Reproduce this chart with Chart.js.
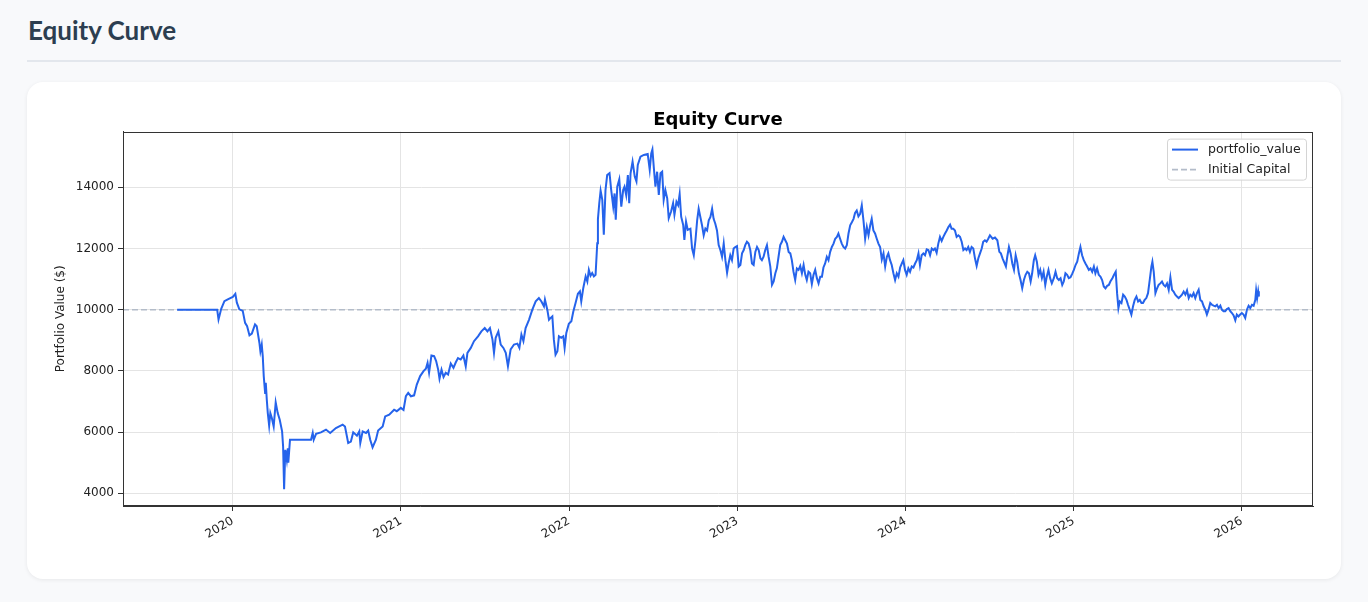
<!DOCTYPE html>
<html>
<head>
<meta charset="utf-8">
<title>Equity Curve</title>
<script src="https://cdn.jsdelivr.net/npm/chart.js@4.4.1/dist/chart.umd.min.js"></script>
<style>
    html, body { margin: 0; padding: 0; background: #f8f9fb; }
    body { width: 1368px; height: 602px; overflow: hidden; position: relative; font-family: Lato, "Open Sans", sans-serif; }
    h1 { position: absolute; left: 28px; top: 15px; margin: 0; font-size: 26px; line-height: 1.2; font-weight: 700; color: #2c3e50; }
    .rule { position: absolute; left: 27px; top: 60px; width: 1314px; height: 2px; background: #e3e7ed; }
    .card { position: absolute; left: 27px; top: 82px; width: 1314px; height: 497px; background: #fff; border-radius: 16px; box-shadow: 0 1px 4px rgba(0, 0, 0, 0.07); }
    canvas { display: block; }
</style>
</head>
<body>
<h1>Equity Curve</h1>
<div class="rule"></div>
<div class="card">
    <canvas id="equityChart" width="1314" height="497"></canvas>
</div>

<script>
// dates as decimal years
const dates = [
    2019.669, 2019.907, 2019.915, 2019.931, 2019.950, 2019.970, 2020.000, 2020.015, 2020.024, 2020.039,
    2020.059, 2020.073, 2020.085, 2020.099, 2020.113, 2020.132, 2020.142, 2020.158, 2020.164, 2020.172,
    2020.178, 2020.184, 2020.192, 2020.196, 2020.202, 2020.208, 2020.216, 2020.223, 2020.232, 2020.243,
    2020.255, 2020.267, 2020.279, 2020.293, 2020.299, 2020.305, 2020.312, 2020.321, 2020.327, 2020.330,
    2020.340, 2020.465, 2020.475, 2020.481, 2020.495, 2020.524, 2020.554, 2020.579, 2020.613, 2020.653,
    2020.667, 2020.686, 2020.702, 2020.716, 2020.738, 2020.752, 2020.758, 2020.772, 2020.792, 2020.805,
    2020.817, 2020.831, 2020.851, 2020.864, 2020.891, 2020.906, 2020.930, 2020.959, 2020.975, 2020.999,
    2021.015, 2021.029, 2021.043, 2021.059, 2021.078, 2021.094, 2021.114, 2021.134, 2021.148, 2021.158,
    2021.167, 2021.181, 2021.197, 2021.209, 2021.221, 2021.229, 2021.241, 2021.253, 2021.266, 2021.280,
    2021.296, 2021.312, 2021.326, 2021.339, 2021.355, 2021.371, 2021.385, 2021.395, 2021.415, 2021.434,
    2021.458, 2021.478, 2021.498, 2021.514, 2021.529, 2021.544, 2021.553, 2021.563, 2021.579, 2021.593,
    2021.609, 2021.623, 2021.636, 2021.652, 2021.672, 2021.692, 2021.704, 2021.716, 2021.728, 2021.741,
    2021.761, 2021.781, 2021.801, 2021.820, 2021.835, 2021.850, 2021.856, 2021.870, 2021.880, 2021.890,
    2021.900, 2021.909, 2021.919, 2021.930, 2021.939, 2021.953, 2021.965, 2021.973, 2021.983, 2021.998,
    2022.013, 2022.025, 2022.038, 2022.052, 2022.064, 2022.072, 2022.084, 2022.098, 2022.108, 2022.117,
    2022.127, 2022.137, 2022.147, 2022.157, 2022.167, 2022.171, 2022.179, 2022.187, 2022.197, 2022.206,
    2022.216, 2022.226, 2022.240, 2022.250, 2022.262, 2022.270, 2022.277, 2022.286, 2022.298, 2022.310,
    2022.321, 2022.329, 2022.339, 2022.349, 2022.357, 2022.365, 2022.377, 2022.390, 2022.400, 2022.408,
    2022.424, 2022.444, 2022.467, 2022.479, 2022.488, 2022.495, 2022.503, 2022.513, 2022.523, 2022.533,
    2022.543, 2022.553, 2022.562, 2022.572, 2022.583, 2022.592, 2022.606, 2022.618, 2022.626, 2022.638,
    2022.648, 2022.657, 2022.666, 2022.678, 2022.685, 2022.695, 2022.705,
    2022.721, 2022.731, 2022.741, 2022.751, 2022.761, 2022.770, 2022.780, 2022.790, 2022.800, 2022.810,
    2022.820, 2022.830, 2022.840, 2022.850, 2022.859, 2022.869, 2022.879, 2022.889, 2022.899, 2022.909,
    2022.919, 2022.929, 2022.939, 2022.948, 2022.958, 2022.968, 2022.978, 2022.988, 2022.998, 2023.008,
    2023.018, 2023.028, 2023.038, 2023.047, 2023.057, 2023.067, 2023.077, 2023.087, 2023.097, 2023.107,
    2023.117, 2023.127, 2023.137, 2023.146, 2023.156, 2023.166, 2023.176, 2023.186, 2023.196, 2023.206,
    2023.216, 2023.226, 2023.235, 2023.245, 2023.255, 2023.265, 2023.275, 2023.285, 2023.295, 2023.305,
    2023.315, 2023.324, 2023.334, 2023.344, 2023.354, 2023.364, 2023.374, 2023.384, 2023.394, 2023.404,
    2023.413, 2023.423, 2023.433, 2023.443, 2023.453, 2023.463, 2023.473, 2023.483, 2023.493, 2023.503,
    2023.512, 2023.522, 2023.532, 2023.542, 2023.552, 2023.562, 2023.572, 2023.582, 2023.592, 2023.601,
    2023.611, 2023.621, 2023.631, 2023.641, 2023.651, 2023.661, 2023.671, 2023.681, 2023.691, 2023.700,
    2023.710, 2023.720, 2023.730, 2023.740, 2023.750, 2023.760, 2023.770, 2023.780, 2023.790, 2023.799,
    2023.809, 2023.819, 2023.829, 2023.839, 2023.849, 2023.859, 2023.869, 2023.879, 2023.889, 2023.898,
    2023.908, 2023.918, 2023.928, 2023.938, 2023.948, 2023.958, 2023.968, 2023.978, 2023.987, 2023.997,
    2024.007, 2024.017, 2024.027, 2024.037, 2024.047, 2024.057, 2024.067, 2024.077, 2024.086, 2024.096,
    2024.106, 2024.116, 2024.126, 2024.136, 2024.146, 2024.156, 2024.166, 2024.175, 2024.185, 2024.195,
    2024.205, 2024.215, 2024.225, 2024.235, 2024.245, 2024.255, 2024.265, 2024.274, 2024.284, 2024.294,
    2024.304, 2024.314, 2024.324, 2024.334, 2024.344, 2024.354, 2024.363, 2024.373, 2024.383, 2024.393,
    2024.403, 2024.413, 2024.423, 2024.433, 2024.443, 2024.453, 2024.462, 2024.472, 2024.482, 2024.492,
    2024.502, 2024.518, 2024.532, 2024.546, 2024.558, 2024.567, 2024.577, 2024.585, 2024.597, 2024.605,
    2024.615, 2024.625, 2024.635, 2024.645, 2024.655, 2024.664, 2024.674, 2024.684, 2024.694, 2024.704,
    2024.714, 2024.724, 2024.734, 2024.744, 2024.753, 2024.763, 2024.771, 2024.781, 2024.791, 2024.801,
    2024.811, 2024.821, 2024.831, 2024.840, 2024.850, 2024.860, 2024.870, 2024.882, 2024.892, 2024.902,
    2024.912, 2024.922, 2024.932, 2024.941, 2024.951, 2024.961, 2024.971, 2024.981, 2024.991, 2025.001,
    2025.011, 2025.021, 2025.031, 2025.040, 2025.050, 2025.060, 2025.070, 2025.080, 2025.090, 2025.100,
    2025.110, 2025.120, 2025.129, 2025.139, 2025.149, 2025.159, 2025.169, 2025.179, 2025.189, 2025.199,
    2025.209, 2025.218, 2025.230, 2025.240, 2025.250, 2025.258, 2025.266, 2025.274, 2025.284, 2025.294,
    2025.304, 2025.314, 2025.323, 2025.333, 2025.343, 2025.353, 2025.363, 2025.373, 2025.383, 2025.393,
    2025.403, 2025.412, 2025.422, 2025.432, 2025.442, 2025.452, 2025.462, 2025.468, 2025.476, 2025.486,
    2025.496, 2025.505, 2025.515, 2025.525, 2025.535, 2025.545, 2025.555, 2025.565, 2025.575, 2025.585,
    2025.594, 2025.604, 2025.614, 2025.624, 2025.634, 2025.644, 2025.654, 2025.664, 2025.674, 2025.684,
    2025.693, 2025.703, 2025.713, 2025.723, 2025.733, 2025.743, 2025.753, 2025.763, 2025.773, 2025.783,
    2025.792, 2025.802, 2025.812, 2025.822, 2025.832, 2025.842, 2025.852, 2025.862, 2025.872, 2025.881,
    2025.891, 2025.901, 2025.911, 2025.921, 2025.931, 2025.941, 2025.951, 2025.961, 2025.970, 2025.980,
    2025.990, 2026.000, 2026.010, 2026.020, 2026.030, 2026.040, 2026.050, 2026.060, 2026.070, 2026.080,
    2026.085, 2026.091, 2026.097, 2026.101
];

const portfolioValue = [
    10000, 10000, 9680, 10030, 10280, 10340, 10420, 10520, 10230, 10010,
    9960, 9570, 9460, 9160, 9220, 9520, 9460, 8920, 8640, 8860,
    8480, 7820, 7280, 7610, 7060, 6620, 6210, 6620, 6460, 6180,
    6970, 6620, 6400, 6020, 5530, 4130, 5420, 5090, 5470, 5000,
    5750, 5750, 5970, 5750, 5940, 5990, 6080, 5970, 6130, 6240,
    6180, 5640, 5690, 5990, 5880, 6020, 5640, 6020, 5970, 6050,
    5750, 5500, 5750, 6050, 6180, 6510, 6570, 6730, 6680, 6790,
    6720, 7170, 7280, 7170, 7200, 7550, 7830, 7990, 8070, 8260,
    7940, 8500, 8480, 8320, 8040, 7740, 8040, 7800, 7940, 7880,
    8240, 8100, 8280, 8420, 8370, 8500, 8150, 8590, 8750, 8970,
    9130, 9290, 9400, 9290, 9400, 9020, 8590, 9080, 9290, 8860,
    8750, 8590, 8150, 8700, 8860, 8890, 8750, 9190, 8970, 9400,
    9670, 10000, 10270, 10380, 10270, 10110, 10330, 10000, 9670, 9730,
    9780, 9020, 8530, 8640, 9130, 9080, 9130, 8750, 9240, 9540,
    9620, 9950, 10220, 10520, 10600, 10270, 10710, 11090, 10920, 11300,
    11110, 11200, 11090, 11140, 12170, 12960, 13480, 13890, 13590, 12450,
    13910, 14400, 14460, 13910, 13370, 13800, 12940, 14020, 14260, 13370,
    13910, 14020, 13750, 14400, 13480, 14460, 14840, 14350, 14190, 14730,
    15000, 15060, 15090, 14570, 15110, 15240, 14670, 14020, 14510, 13750,
    14460, 14510, 13590, 13910, 13640, 12990, 13210, 13480, 13100, 13530,
    13420, 13780, 13040, 12770, 12280, 12880, 12610,
    12650, 12000, 11780, 12270, 12920, 13300, 13030, 12760, 12430, 12650,
    12590, 12920, 13030, 13300, 12970, 12810, 12590, 12110, 11950, 11730,
    12160, 11620, 11210, 11510, 11780, 11620, 12000, 12050, 12080, 11410,
    11460, 11840, 11950, 12110, 12220, 12160, 11950, 11510, 11460, 11890,
    12050, 11950, 11680, 11620, 11730, 11950, 12110, 11730, 11410, 10810,
    10920, 11190, 11350, 11730, 12110, 12220, 12380, 12270, 12160, 11890,
    11840, 11620, 11240, 10970, 11350, 11300, 11430, 11190, 11460, 11140,
    10970, 11240, 11190, 10840, 11140, 11300, 11030, 10860, 11080, 11080,
    11380, 11510, 11730, 11620, 11890, 12050, 12160, 12320, 12380, 12490,
    12320, 12160, 12050, 12000, 12110, 12490, 12760, 12860, 12970, 13160,
    13240, 13050, 13130, 13410, 12920, 12320, 12700, 12430, 12760, 12970,
    12590, 12490, 12320, 12160, 12050, 11640, 11840, 11410, 11730, 11840,
    11620, 11460, 11190, 10970, 11190, 11080, 11380, 11510, 11620, 11300,
    11140, 11350, 11240, 11410, 11380, 11510, 11620, 11840, 11460, 11780,
    11840, 11780, 11970, 11950, 11780, 12000, 11950, 12000, 11860, 12160,
    12380, 12250, 12380, 12490, 12590, 12700, 12780, 12650, 12650, 12590,
    12380, 12430, 12380, 12220, 11950, 12000, 11950, 12050, 11890, 12050,
    12000, 11680, 11430, 11680, 11840, 12000, 12220, 12270, 12220, 12320,
    12430, 12320, 12360, 12270, 11890, 11840, 11680, 11570, 11410, 11730,
    12050, 11840, 11510, 11300, 11780, 11570, 11190, 10970, 10700, 10970,
    11140, 11240, 11190, 10920, 11190, 11620, 11780, 11570, 11140, 11300,
    11030, 11240, 10810, 11080, 11300, 11030, 10860, 11030, 11240, 11030,
    10970, 11030, 10810, 10920, 11190, 11140, 11030, 11060, 11170, 11300,
    11460, 11570, 11840, 12050, 11780, 11620, 11510, 11410, 11300, 11350,
    11240, 11410, 11190, 11350, 11140, 11080, 10970, 10760, 10700, 10780,
    10810, 10920, 11030, 11140, 11240, 10540, 10050, 10270, 10220, 10490,
    10430, 10320, 10160, 10000, 9840, 10110, 10320, 10430, 10270, 10320,
    10220, 10220, 10320, 10380, 10540, 10970, 11410, 11570, 11240, 10540,
    10700, 10810, 10860, 10920, 10810, 10760, 10860, 10650, 11060, 10650,
    10590, 10490, 10430, 10380, 10430, 10490, 10590, 10490, 10630, 10380,
    10490, 10430, 10540, 10380, 10540, 10650, 10320, 10270, 10110, 10000,
    9840, 10000, 10220, 10160, 10130, 10110, 10160, 10050, 10130, 10000,
    9950, 9950, 10020, 10050, 9950, 9890, 9810, 9650, 9840, 9780,
    9840, 9890, 9840, 9730, 10000, 10130, 10050, 10160, 10130, 10320,
    10630, 10380, 10600, 10430
];

const initialCapital = 10000;
const yearTicks = [2020, 2021, 2022, 2023, 2024, 2025, 2026];
const valueTicks = [4000, 6000, 8000, 10000, 12000, 14000];
const xRange = [2019.347, 2026.423];
const yRange = [3582, 15822];

const TICK_FONT = {family: "'DejaVu Sans', sans-serif", size: 12};

// matplotlib-like box around the axes
const axesFrame = {
    id: "axesFrame",
    afterDatasetsDraw(chart) {
        const {ctx, chartArea} = chart;
        ctx.save();
        ctx.strokeStyle = "#333333";
        ctx.lineWidth = 1;
        ctx.strokeRect(Math.round(chartArea.left) + 0.5, Math.round(chartArea.top) + 0.5,
            Math.round(chartArea.width) - 1, Math.round(chartArea.height) - 1);
        ctx.restore();
    }
};

// legend box in the upper right corner of the plot
const cornerLegend = {
    id: "cornerLegend",
    afterDraw(chart) {
        const {ctx, chartArea} = chart;
        const boxW = 139;
        const boxH = 41;
        const x = chartArea.right - 7 - boxW;
        const y = chartArea.top + 7;

        ctx.save();
        ctx.fillStyle = "rgba(255,255,255,0.85)";
        ctx.strokeStyle = "#d4d4d4";
        ctx.lineWidth = 1;
        ctx.beginPath();
        ctx.roundRect(x + 0.5, y + 0.5, boxW, boxH, 3);
        ctx.fill();
        ctx.stroke();

        ctx.font = "12.5px 'DejaVu Sans', sans-serif";
        ctx.textBaseline = "middle";
        chart.data.datasets.forEach((ds, i) => {
            const rowY = y + 11 + i * 20;
            ctx.strokeStyle = ds.borderColor;
            ctx.lineWidth = ds.borderWidth;
            ctx.setLineDash(ds.borderDash || []);
            ctx.beginPath();
            ctx.moveTo(x + 5, rowY);
            ctx.lineTo(x + 31, rowY);
            ctx.stroke();
            ctx.setLineDash([]);
            ctx.fillStyle = "#222222";
            ctx.fillText(ds.label, x + 41, rowY);
        });
        ctx.restore();
    }
};

const points = dates.map((d, i) => ({x: d, y: portfolioValue[i]}));

new Chart(document.getElementById("equityChart"), {
    type: "line",
    data: {
        datasets: [
            {
                label: "portfolio_value",
                data: points,
                borderColor: "#2563eb",
                borderWidth: 2,
                pointRadius: 0,
                tension: 0,
            },
            {
                label: "Initial Capital",
                data: [{x: xRange[0], y: initialCapital}, {x: xRange[1], y: initialCapital}],
                borderColor: "#b3bcc9",
                borderWidth: 1.6,
                borderDash: [6, 3],
                pointRadius: 0,
            }
        ]
    },
    options: {
        responsive: false,
        animation: false,
        layout: {padding: {left: 0, right: 28, top: 0, bottom: 0}},
        plugins: {
            legend: {display: false},
            tooltip: {enabled: false},
            title: {
                display: true,
                fullSize: false,
                text: "Equity Curve",
                color: "#000000",
                font: {family: "'DejaVu Sans', sans-serif", size: 18, weight: "bold"},
                padding: {top: 28, bottom: 0},
            }
        },
        scales: {
            x: {
                type: "linear",
                min: xRange[0],
                max: xRange[1],
                afterBuildTicks: scale => {
                    scale.ticks = yearTicks.map(v => ({value: v}));
                },
                afterFit: scale => {
                    scale.height = 73;
                },
                ticks: {
                    color: "#222222",
                    font: TICK_FONT,
                    minRotation: 30,
                    maxRotation: 30,
                    padding: 3,
                    callback: v => String(v),
                },
                grid: {color: "#e4e4e4", tickColor: "#333333", tickLength: 5},
                border: {color: "#333333"},
            },
            y: {
                min: yRange[0],
                max: yRange[1],
                afterBuildTicks: scale => {
                    scale.ticks = valueTicks.map(v => ({value: v}));
                },
                afterFit: scale => {
                    scale.width = 96;
                },
                ticks: {
                    color: "#222222",
                    font: TICK_FONT,
                    padding: 4,
                    callback: v => String(v),
                },
                grid: {color: "#e4e4e4", tickColor: "#333333", tickLength: 5},
                border: {color: "#333333"},
                title: {
                    display: true,
                    text: "Portfolio Value ($)",
                    color: "#222222",
                    font: TICK_FONT,
                    padding: {top: 27, bottom: 0},
                }
            }
        }
    },
    plugins: [axesFrame, cornerLegend]
});
</script>
</body>
</html>
